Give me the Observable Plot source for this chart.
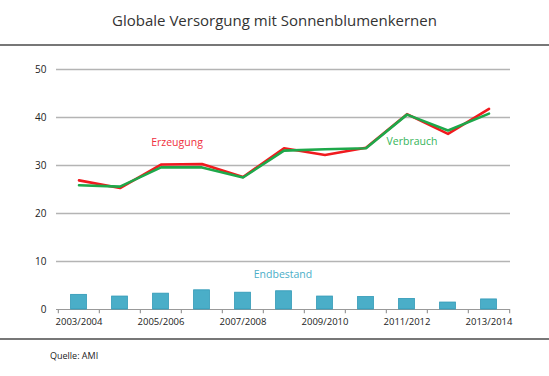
<!DOCTYPE html>
<html>
<head>
<meta charset="utf-8">
<script src="https://cdn.jsdelivr.net/npm/d3@7"></script>
<script src="https://cdn.jsdelivr.net/npm/@observablehq/plot@0.6"></script>
<style>
  html, body { margin: 0; padding: 0; background: #fff; }
  body { width: 549px; font-family: "Open Sans", sans-serif; }
  #title { height: 44px; line-height: 41px; text-align: center; font-size: 15px; color: #333; border-bottom: 2px solid #777; box-sizing: content-box; }
  #chart { height: 292px; }
  #rule { border-top: 2px solid #777; }
  #caption { font-size: 9px; color: #222; padding-left: 50px; padding-top: 9px; }
</style>
</head>
<body>
<div id="title">Globale Versorgung mit Sonnenblumenkernen</div>
<div id="chart"></div>
<div id="rule"></div>
<div id="caption">Quelle: AMI</div>
<script>
const seasons = ["2003/2004","2004/2005","2005/2006","2006/2007","2007/2008","2008/2009","2009/2010","2010/2011","2011/2012","2012/2013","2013/2014"];
const erzeugung = [26.9, 25.3, 30.2, 30.3, 27.6, 33.6, 32.2, 33.7, 40.7, 36.6, 41.8];
const verbrauch = [25.9, 25.6, 29.6, 29.6, 27.5, 33.1, 33.4, 33.6, 40.6, 37.3, 40.8];
const endbestand = [3.05, 2.7, 3.3, 4.0, 3.5, 3.8, 2.7, 2.6, 2.2, 1.45, 2.1];
const xTickLabels = ["2003/2004","2005/2006","2007/2008","2009/2010","2011/2012","2013/2014"];
const yTicks = [0, 10, 20, 30, 40, 50];
const labelErz = [{text: "Erzeugung", season: "2005/2006", value: 34.8}];
const labelVer = [{text: "Verbrauch", season: "2011/2012", value: 35.0}];
const labelEnd = [{text: "Endbestand", season: "2008/2009", value: 7.2}];

const rows = seasons.map((s, i) => ({season: s, erz: erzeugung[i], ver: verbrauch[i], end: endbestand[i]}));
const width = 549, mL = 56, mR = 39;
const step = (width - mL - mR) / seasons.length;

const plot = Plot.plot({
  width: width,
  height: 292,
  marginLeft: mL,
  marginRight: mR,
  marginTop: 23,
  marginBottom: 29,
  style: {fontFamily: "Open Sans, sans-serif", fontSize: "10px", color: "#333", background: "transparent"},
  x: {type: "band", domain: seasons, padding: 0},
  y: {domain: [0, 50]},
  marks: [
    Plot.ruleY(yTicks.filter(d => d > 0), {stroke: "#b4b4b4", strokeWidth: 1.6}),
    Plot.ruleY([0], {stroke: "#999", strokeWidth: 1.2}),
    Plot.ruleX(seasons, {x: d => d, y1: 0, y2: -0.9, dx: -step / 2, stroke: "#999", strokeWidth: 1.2}),
    Plot.ruleX(seasons.slice(-1), {x: d => d, y1: 0, y2: -0.9, dx: step / 2, stroke: "#999", strokeWidth: 1.2}),
    Plot.barY(rows, {x: "season", y: "end", fill: "#4aaec8", stroke: "#2f98b6", strokeWidth: 0.8, insetLeft: 12.6, insetRight: 12.6}),
    Plot.lineY(rows, {x: "season", y: "erz", stroke: "#f01a1e", strokeWidth: 2.6}),
    Plot.lineY(rows, {x: "season", y: "ver", stroke: "#1ea84a", strokeWidth: 2.6}),
    Plot.text(labelErz, {x: "season", y: "value", text: "text", fill: "#f0303c", dx: 16, fontSize: 10.5}),
    Plot.text(labelVer, {x: "season", y: "value", text: "text", fill: "#35b55a", dx: 5, fontSize: 10.5}),
    Plot.text(labelEnd, {x: "season", y: "value", text: "text", fill: "#4aaec8", dx: -1, fontSize: 10.5}),
    Plot.axisY({ticks: yTicks, tickSize: 0, tickPadding: 10, label: null, fill: "#222", fontSize: 10}),
    Plot.axisX({ticks: xTickLabels, tickSize: 0, tickPadding: 9, label: null, fill: "#222", fontSize: 9.5})
  ]
});
document.getElementById("chart").appendChild(plot);
</script>
</body>
</html>
